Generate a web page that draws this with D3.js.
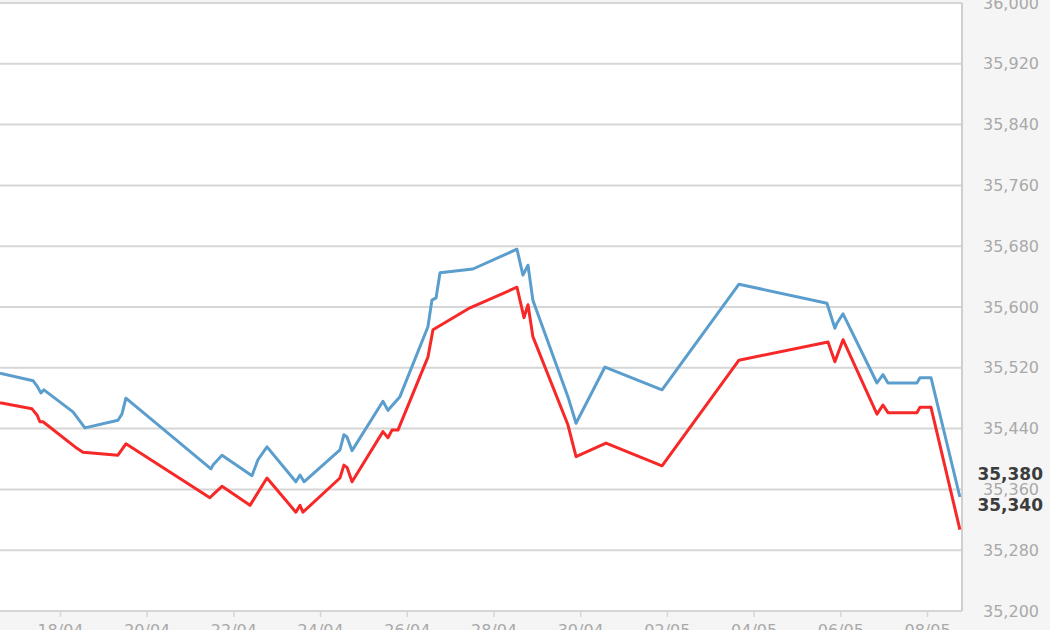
<!DOCTYPE html>
<html>
<head>
<meta charset="utf-8">
<script src="https://cdn.jsdelivr.net/npm/d3@7"></script>
<style>
  body { margin: 0; background: #f5f5f5; }
  svg { display: block; font-family: "DejaVu Sans", Verdana, sans-serif; }
</style>
</head>
<body>
<div id="chart"></div>
<script>
// chart data
const blueTimes = [
  "2019-04-16 14:48", "2019-04-17 09:06", "2019-04-17 11:18", "2019-04-17 13:30", "2019-04-17 15:06",
  "2019-04-18 07:12", "2019-04-18 13:48", "2019-04-19 08:06", "2019-04-19 10:18", "2019-04-19 12:30",
  "2019-04-21 11:36", "2019-04-21 12:42", "2019-04-21 17:42", "2019-04-22 10:18", "2019-04-22 13:36",
  "2019-04-22 18:36", "2019-04-23 10:36", "2019-04-23 12:54", "2019-04-23 15:06", "2019-04-24 11:00",
  "2019-04-24 13:12", "2019-04-24 14:54", "2019-04-24 17:42", "2019-04-25 10:48", "2019-04-25 13:36",
  "2019-04-25 20:12", "2019-04-26 11:42", "2019-04-26 13:54", "2019-04-26 16:12", "2019-04-26 18:24",
  "2019-04-27 12:36", "2019-04-28 13:00", "2019-04-28 16:18", "2019-04-28 19:06", "2019-04-28 21:48",
  "2019-04-29 17:12", "2019-04-29 21:42", "2019-04-30 13:42", "2019-05-01 21:18", "2019-05-03 15:54",
  "2019-05-05 16:36", "2019-05-05 21:00", "2019-05-05 22:12", "2019-05-06 01:30", "2019-05-06 20:18",
  "2019-05-06 23:36", "2019-05-07 02:24", "2019-05-07 18:24", "2019-05-07 20:06", "2019-05-08 02:12",
  "2019-05-08 18:12"
];
const blueValues = [
  35513, 35503, 35496, 35487, 35491,
  35462, 35441, 35451, 35459, 35480,
  35387, 35392, 35405, 35378, 35399,
  35416, 35370, 35379, 35370, 35412,
  35432, 35429, 35411, 35476, 35464,
  35482, 35574, 35609, 35612, 35645,
  35650, 35676, 35642, 35655, 35609,
  35482, 35447, 35521, 35491, 35630,
  35605, 35572, 35579, 35591, 35500,
  35511, 35500, 35500, 35507, 35507,
  35350
];

const redTimes = [
  "2019-04-16 14:48", "2019-04-17 08:30", "2019-04-17 11:18", "2019-04-17 12:54", "2019-04-17 14:36",
  "2019-04-18 09:24", "2019-04-18 12:42", "2019-04-19 08:06", "2019-04-19 12:30", "2019-04-21 11:00",
  "2019-04-21 12:42", "2019-04-21 17:42", "2019-04-22 09:12", "2019-04-22 18:36", "2019-04-23 10:36",
  "2019-04-23 12:54", "2019-04-23 14:30", "2019-04-24 11:00", "2019-04-24 13:12", "2019-04-24 14:54",
  "2019-04-24 17:42", "2019-04-25 10:48", "2019-04-25 13:36", "2019-04-25 15:48", "2019-04-25 19:06",
  "2019-04-26 11:42", "2019-04-26 14:30", "2019-04-27 11:00", "2019-04-28 13:00", "2019-04-28 16:54",
  "2019-04-28 19:06", "2019-04-28 21:48", "2019-04-29 17:12", "2019-04-29 21:42", "2019-04-30 14:18",
  "2019-05-01 21:18", "2019-05-03 15:54", "2019-05-05 17:12", "2019-05-05 21:00", "2019-05-06 01:30",
  "2019-05-06 20:18", "2019-05-06 23:36", "2019-05-07 02:24", "2019-05-07 18:24", "2019-05-07 20:06",
  "2019-05-08 02:12", "2019-05-08 18:12"
];
const redValues = [
  35474, 35466, 35458, 35449, 35449,
  35414, 35409, 35405, 35420, 35349,
  35353, 35364, 35339, 35375, 35330,
  35339, 35330, 35375, 35392, 35389,
  35370, 35436, 35428, 35438, 35438,
  35534, 35570, 35599, 35626, 35586,
  35603, 35561, 35445, 35403, 35421,
  35391, 35530, 35554, 35528, 35557,
  35459, 35471, 35461, 35461, 35468,
  35468, 35307
];

// last price markers shown on the axis
const lastLabels = [35380, 35340];

const xTickDates = ["2019-04-18", "2019-04-20", "2019-04-22", "2019-04-24", "2019-04-26", "2019-04-28",
  "2019-04-30", "2019-05-02", "2019-05-04", "2019-05-06", "2019-05-08"];
const yTicks = [35200, 35280, 35360, 35440, 35520, 35600, 35680, 35760, 35840, 35920, 36000];

const width = 1050, height = 630;
const plot = { left: 0, right: 962, top: 3, bottom: 611 };

const parseTime = d3.utcParse("%Y-%m-%d %H:%M");
const parseDay = d3.utcParse("%Y-%m-%d");

const blueData = blueTimes.map((t, i) => ({ t: parseTime(t), v: blueValues[i] }));
const redData = redTimes.map((t, i) => ({ t: parseTime(t), v: redValues[i] }));

let x = d3.scaleUtc()
    .domain([parseTime("2019-04-16 14:48"), parseTime("2019-05-08 19:22")])
    .range([plot.left, plot.right]);

let y = d3.scaleLinear()
    .domain([35200, 36000])
    .range([plot.bottom, plot.top]);

var svg = d3.select("#chart")
    .append("svg")
    .attr("width", width)
    .attr("height", height);

// plot background
svg.append("rect")
    .attr("x", plot.left)
    .attr("y", plot.top)
    .attr("width", plot.right - plot.left)
    .attr("height", plot.bottom - plot.top)
    .attr("fill", "#ffffff");

// horizontal grid lines
svg.append("g")
    .selectAll("line")
    .data(yTicks)
    .enter()
    .append("line")
    .attr("x1", plot.left)
    .attr("x2", plot.right)
    .attr("y1", d => y(d))
    .attr("y2", d => y(d))
    .attr("stroke", "#d6d6d6")
    .attr("stroke-width", 2);

// right border
svg.append("line")
    .attr("x1", plot.right).attr("x2", plot.right)
    .attr("y1", plot.top).attr("y2", plot.bottom)
    .attr("stroke", "#cfcfcf")
    .attr("stroke-width", 2);

// y axis on the right
let yAxis = svg.append("g")
    .attr("transform", `translate(${plot.right}, 0)`)
    .call(d3.axisRight(y).tickValues(yTicks).tickFormat(d3.format(",")).tickSize(0).tickPadding(21));
yAxis.select(".domain").remove();
yAxis.selectAll("text")
    .attr("fill", "#a9a9a9")
    .style("font-size", "16px")
    .style("font-family", "'DejaVu Sans', Verdana, sans-serif");

// x axis along the bottom
let xAxis = svg.append("g")
    .attr("transform", `translate(0, ${plot.bottom})`)
    .call(d3.axisBottom(x)
        .tickValues(xTickDates.map(parseDay))
        .tickFormat(d3.utcFormat("%d/%m"))
        .tickSize(6)
        .tickPadding(8));
xAxis.select(".domain").remove();
xAxis.selectAll("line").attr("stroke", "#d6d6d6").attr("stroke-width", 1.5);
xAxis.selectAll("text")
    .attr("fill", "#a9a9a9")
    .style("font-size", "16px")
    .style("font-family", "'DejaVu Sans', Verdana, sans-serif");

let line = d3.line()
    .x(d => x(d.t))
    .y(d => y(d.v));

svg.append("path")
    .datum(blueData)
    .attr("fill", "none")
    .attr("stroke", "#5b9ecd")
    .attr("stroke-width", 3)
    .attr("stroke-linejoin", "round")
    .attr("d", line);

svg.append("path")
    .datum(redData)
    .attr("fill", "none")
    .attr("stroke", "#f72828")
    .attr("stroke-width", 3)
    .attr("stroke-linejoin", "round")
    .attr("d", line);

// current value labels
svg.append("g")
    .selectAll("text")
    .data(lastLabels)
    .enter()
    .append("text")
    .attr("x", 1043)
    .attr("y", d => y(d))
    .attr("dy", "0.35em")
    .style("text-anchor", "end")
    .style("font-size", "17px")
    .style("font-weight", "bold")
    .attr("fill", "#3c3c3c")
    .text(d => d3.format(",")(d));
</script>
</body>
</html>
